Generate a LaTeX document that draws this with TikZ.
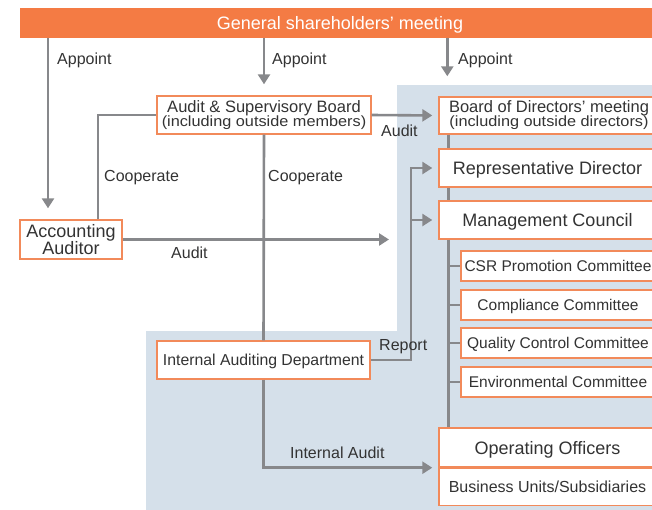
\documentclass[tikz,border=0pt]{standalone}
\usepackage{fontspec}
\setmainfont{Liberation Sans}
\newfontfamily\narrowfont{Liberation Sans}[FakeStretch=1.1]
\usetikzlibrary{arrows.meta}
\definecolor{barorange}{HTML}{F47B44}
\definecolor{boxorange}{HTML}{F28A5A}
\definecolor{linegray}{HTML}{87888B}
\definecolor{paleblue}{HTML}{D5E0EA}
\definecolor{textgray}{HTML}{333333}
\tikzset{
  box/.style={draw=boxorange,line width=1.4pt,fill=white,inner sep=0pt,text=textgray,align=center},
  bigbox/.style={box,minimum width=217pt,minimum height=38pt,text depth=0pt,font=\fontsize{18}{14}\selectfont},
  comm/.style={box,minimum width=194pt,minimum height=30pt,text depth=0pt,font=\fontsize{15.5}{18}\selectfont},
  twoline/.style={box,minimum height=38pt,font=\fontsize{16.5}{12.5}\selectfont},
  link/.style={draw=linegray,line width=2.6pt},
  arr/.style={link,-{Triangle[length=10pt,width=12pt]}},
  lbl/.style={anchor=west,inner sep=0pt,text=textgray,font=\fontsize{16}{18}\selectfont},
}
\def\subline#1{{\narrowfont\fontsize{14.8}{12.5}\selectfont#1}}

\begin{document}
\begin{tikzpicture}[x=1pt,y=-1pt]
  \useasboundingbox (0,0) rectangle (652,509);
  \clip (0,0) rectangle (652,509);
  % shaded area
  \fill[paleblue] (146,331) -- (397,331) -- (397,85) -- (660,85) -- (660,515) -- (146,515) -- cycle;

  \node[fill=barorange,minimum width=640pt,minimum height=30pt,inner sep=0pt,text=white,
    text depth=0pt,font=\fontsize{18}{20}\selectfont] (gsm) at (340,23) {General shareholders' meeting};

  \node[twoline,minimum width=214pt] (asb) at (264,115)
    {Audit \& Supervisory Board\\[-1.2pt]\subline{(including outside members)}};
  \node[twoline,minimum width=220pt,minimum height=37pt] (bod) at (549,115.5)
    {Board of Directors' meeting\\[-1.2pt]\subline{(including outside directors)}};
  \node[bigbox] (rep) at (547.5,168) {Representative Director};
  \node[bigbox] (mc) at (547.5,220) {Management Council};
  \foreach \y/\name/\txt in {266/csr/CSR Promotion Committee,305/comp/Compliance Committee,
      343/qc/Quality Control Committee,382/env/Environmental Committee}
    \node[comm] (\name) at (558,\y) {\txt};
  \node[bigbox,minimum height=39pt] (oo) at (547.5,447.5) {Operating Officers};
  \node[box,minimum width=217pt,minimum height=37pt,anchor=north,text depth=0pt,
    font=\fontsize{16}{18}\selectfont] (bu) at (oo.south) {Business Units/Subsidiaries};
  \node[box,minimum width=102pt,minimum height=39pt,
    font=\fontsize{18}{14}\selectfont] (aa) at (71,239.5) {Accounting\\[-0.5pt]Auditor};
  \node[box,minimum width=213pt,minimum height=38pt,text depth=0pt,
    font=\fontsize{15.8}{18}\selectfont] (iad) at (263.5,360) {Internal Auditing Department};

  % connectors
  \coordinate (apL) at ([xshift=-23pt]aa.north);
  \coordinate (apR) at ([xshift=9pt]bod.north west);
  \coordinate (coL) at ([xshift=27pt]aa.north);
  \coordinate (tr) at ([xshift=10pt]bod.south west);
  \coordinate (rp) at (411,0);
  \coordinate (auditend) at (389,239.5);

  \draw[arr,shorten >=11pt] (apL |- gsm.south) -- (apL);
  \draw[arr,shorten >=11pt] (asb.north |- gsm.south) -- (asb.north);
  \draw[arr,shorten >=20pt] (apR |- gsm.south) -- (apR);
  \draw[link] (coL) |- (asb.west);
  \draw[link] (asb.south) -- (iad.north);
  \draw[arr,shorten >=6pt] (asb.east) -- (bod.west);
  \draw[arr] (aa.east) -- (auditend);
  \draw[link] (tr |- bod.south) -- (tr |- rep.north)
    (tr |- rep.south) -- (tr |- mc.north)
    (tr |- mc.south) -- (tr |- oo.north);
  \foreach \c in {csr,comp,qc,env}
    \draw[link] (tr |- \c.west) -- (\c.west);
  \draw[arr,shorten >=6pt] (iad.east) -| (rp |- rep.west) -- (rep.west);
  \draw[arr,shorten >=6pt] (rp |- mc.west) -- (mc.west);
  \draw[arr,shorten >=6pt] (iad.south) |- (bu.north west);

  % labels
  \node[lbl] (apt1) at (57,60) {Appoint};
  \node[lbl] (apt2) at (272,60) {Appoint};
  \node[lbl] (apt3) at (458,60) {Appoint};
  \node[lbl] (coop1) at (104,178) {Cooperate};
  \node[lbl] (coop2) at (268,178) {Cooperate};
  \node[lbl] (aud1) at (381,131) {Audit};
  \node[lbl] (aud2) at (171,253) {Audit};
  \node[lbl] (rpt) at (379,347) {Report};
  \node[lbl] (ia) at (290,453) {Internal Audit};
\end{tikzpicture}
\end{document}
